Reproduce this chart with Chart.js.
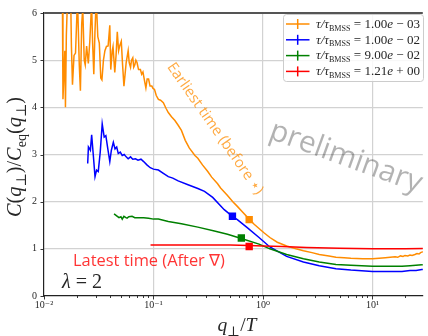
<!DOCTYPE html>
<html><head><meta charset="utf-8">
<script src="https://cdn.jsdelivr.net/npm/chart.js@4/dist/chart.umd.min.js"></script>
<style>html,body{margin:0;padding:0;background:#fff;overflow:hidden}#wrap{width:428px;height:336px;position:relative}</style>
</head><body><div id="wrap"><canvas id="c" width="428" height="336"></canvas></div>
<script>
// ---- data ----
const seriesLabels = ['1.00e-03', '1.00e-02', '9.00e-02', '1.21e+00'];
const seriesColors = ['#ff8c00', '#0000ff', '#008000', '#ff0000'];

const qOrange = [0.0147,0.0149,0.0155,0.0157,0.0160,0.0165,0.0169,0.0174,0.0178,0.0182,
  0.0188,0.0194,0.0200,0.0204,0.0210,0.0215,0.0221,0.0226,0.0233,0.0238,
  0.0245,0.0254,0.0262,0.0272,0.0278,0.0285,0.0292,0.0300,0.0310,0.0320,
  0.0330,0.0338,0.0349,0.0360,0.0372,0.0385,0.0399,0.0407,0.0420,0.0427,
  0.0443,0.0455,0.0467,0.0480,0.0491,0.0508,0.0522,0.0537,0.0550,0.0563,
  0.0587,0.0600,0.0617,0.0630,0.0647,0.0660,0.0675,0.0690,0.0707,0.0730,
  0.0759,0.0780,0.0801,0.0830,0.0852,0.0875,0.0902,0.0930,0.0966,0.0990,
  0.1021,0.106,0.1109,0.116,0.123,0.130,0.1365,0.146,0.1569,0.168,
  0.1799,0.195,0.212,0.2389,0.254,0.280,0.313,0.340,0.385,0.410,
  0.474,0.530,0.583,0.650,0.748,0.830,0.920,1.02,1.156,1.35,
  1.644,2.0,2.34,2.8,3.263,4.0,4.64,5.5,6.34,8.13,
  10,11.5,13.1,14.5,16.1,17.0,18.0,19.0,19.8,21,
  22,23,24.4,25.5,26.6,27.5,28.2,29.5];
const cOrange = [6.6,4.17,5.2,4.0,5.53,6.5,6.2,6.8,5.3,4.48,
  5.1,5.15,6.0,5.98,4.9,4.35,5.77,6.1,5.0,4.9,
  5.3,4.93,5.4,6.2,5.36,4.7,5.6,6.3,5.5,5.36,
  4.62,4.58,5.0,5.2,5.29,5.3,5.74,4.8,5.2,5.29,
  4.74,5.1,5.6,5.2,5.3,5.4,4.9,4.45,4.7,4.95,
  5.2,4.95,4.85,5.0,5.05,4.85,4.9,5.0,4.95,4.8,
  4.8,4.7,4.75,4.55,4.41,4.6,4.6,4.45,4.45,4.4,
  4.38,4.25,4.17,4.15,4.1,3.98,3.89,3.8,3.72,3.62,
  3.51,3.3,3.14,2.98,2.92,2.78,2.64,2.52,2.38,2.29,
  2.13,2.0,1.90,1.78,1.63,1.52,1.43,1.34,1.24,1.14,
  1.06,1.0,0.96,0.92,0.88,0.85,0.82,0.81,0.80,0.79,
  0.79,0.80,0.81,0.82,0.83,0.82,0.85,0.84,0.86,0.85,
  0.87,0.86,0.88,0.90,0.89,0.92,0.93,0.94];

const qBlue = [0.02506,0.02545,0.02652,0.02724,0.02822,0.02923,0.03021,0.03130,0.03262,0.03401,
  0.03545,0.03672,0.03827,0.03990,0.04123,0.04298,0.04453,0.04613,0.04768,0.04970,
  0.05181,0.05400,0.05630,0.05869,0.06168,0.06469,0.06843,0.07222,0.07684,0.08128,
  0.08706,0.09338,0.1,0.1109,0.1230,0.1365,0.150,0.168,0.2067,0.254,
  0.2923,0.3472,0.4426,0.5257,0.583,0.7178,0.920,1.156,1.644,2.34,
  3.263,4.64,6.34,10,13.1,18.6,22,25,28.2,30];
const cBlue = [2.81,3.16,3.09,3.42,2.98,2.53,2.67,2.64,3.05,3.65,
  3.37,3.40,3.12,2.85,3.09,3.26,3.12,3.16,3.02,3.05,
  2.98,3.0,2.95,2.91,2.95,2.90,2.91,2.88,2.90,2.85,
  2.78,2.72,2.69,2.67,2.60,2.53,2.50,2.44,2.36,2.28,
  2.22,2.09,1.83,1.69,1.62,1.45,1.24,1.04,0.84,0.72,
  0.64,0.58,0.55,0.52,0.52,0.52,0.54,0.54,0.56,0.56];

const qGreen = [0.04362,0.04547,0.04838,0.05043,0.05181,0.05366,0.05594,0.05735,0.05953,0.06374,
  0.06745,0.07327,0.08128,0.09016,0.1,0.1109,0.1365,0.1799,0.254,0.3597,
  0.474,0.634,0.920,1.156,1.644,2.34,3.263,4.64,6.34,10,
  13.1,18.6,22,28.2,30];
const cGreen = [1.74,1.71,1.66,1.68,1.63,1.69,1.66,1.65,1.68,1.69,
  1.66,1.66,1.66,1.65,1.63,1.63,1.58,1.53,1.46,1.38,
  1.31,1.22,1.10,1.00,0.88,0.79,0.72,0.67,0.65,0.63,
  0.63,0.63,0.64,0.66,0.67];

const qRed = [0.094,0.2,0.5,0.75,1.0,1.5,2.5,5,10,20,30];
const cRed = [1.08,1.08,1.08,1.07,1.06,1.05,1.03,1.01,1.0,1.0,1.01];

const markerQ = [0.748, 0.526, 0.634, 0.748];
const markerC = [1.62, 1.69, 1.23, 1.05];

const xMajorTicks = [0.01, 0.1, 1, 10];
const xMajorLabels = ['10⁻²', '10⁻¹', '10⁰', '10¹'];
const xMinorTicks = [0.02,0.03,0.04,0.05,0.06,0.07,0.08,0.09,0.2,0.3,0.4,0.5,0.6,0.7,0.8,0.9,2,3,4,5,6,7,8,9,20];
const yTickValues = [0, 1, 2, 3, 4, 5, 6];

// ---- helpers ----
const pts = (q, c) => q.map((v, i) => ({x: v, y: c[i]}));
const SERIF = '"Liberation Serif", "DejaVu Serif", serif';
function fontStr(s, size) {
  return (s.it ? 'italic ' : '') + (size * (s.f || 1)).toFixed(2) + 'px ' + (s.fam || SERIF);
}
function richWidth(ctx, segs, size) {
  let w = 0;
  for (const s of segs) { ctx.font = fontStr(s, size); w += ctx.measureText(s.t).width; }
  return w;
}
function drawRich(ctx, segs, size, x, y, align) {
  const w = richWidth(ctx, segs, size);
  let cx = align === 'center' ? x - w / 2 : (align === 'right' ? x - w : x);
  ctx.textAlign = 'left';
  ctx.textBaseline = 'alphabetic';
  for (const s of segs) {
    ctx.font = fontStr(s, size);
    ctx.fillText(s.t, cx, y + (s.dy || 0) * size);
    cx += ctx.measureText(s.t).width;
  }
}
function fitSize(ctx, segs, target) { return 100 * target / richWidth(ctx, segs, 100); }

function legendSegs(lbl) {
  const m = lbl.split('e');
  const sign = m[1][0] === '-' ? '−' : '+';
  return [
    {t: 'τ/τ', it: true},
    {t: 'BMSS', f: 0.62, dy: 0.22},
    {t: ' = ' + m[0]},
    {t: 'e', it: true},
    {t: ' ' + sign + ' ' + m[1].slice(1)}
  ];
}

const decor = {
  id: 'decor',
  afterDraw(chart) {
    const ctx = chart.ctx, ca = chart.chartArea, xs = chart.scales.x, ys = chart.scales.y;
    ctx.save();
    // tick marks
    ctx.strokeStyle = '#222';
    ctx.lineWidth = 0.9;
    xs.ticks.forEach(t => {
      const p = Math.round(xs.getPixelForValue(t.value)) + 0.5;
      const L = t.major ? 3.5 : 2;
      ctx.beginPath(); ctx.moveTo(p, ca.bottom); ctx.lineTo(p, ca.bottom + L); ctx.stroke();
    });
    ys.ticks.forEach(t => {
      const p = Math.round(ys.getPixelForValue(t.value)) + 0.5;
      ctx.beginPath(); ctx.moveTo(ca.left, p); ctx.lineTo(ca.left - 3.5, p); ctx.stroke();
    });

    // axis titles
    ctx.fillStyle = '#262626';
    const ySegs = [
      {t: 'C', it: true}, {t: '('}, {t: 'q', it: true}, {t: '⊥', f: 0.7, dy: 0.25}, {t: ')/'},
      {t: 'C', it: true}, {t: 'eq', f: 0.7, dy: 0.25}, {t: '('}, {t: 'q', it: true},
      {t: '⊥', f: 0.7, dy: 0.25}, {t: ')'}
    ];
    ctx.save();
    ctx.translate(21, 157);
    ctx.rotate(-Math.PI / 2);
    drawRich(ctx, ySegs, fitSize(ctx, ySegs, 120), 0, 0, 'center');
    ctx.restore();

    const xSegs = [{t: 'q', it: true}, {t: '⊥', f: 0.7, dy: 0.25}, {t: '/'}, {t: 'T', it: true}];
    drawRich(ctx, xSegs, fitSize(ctx, xSegs, 39), 237, 331, 'center');

    // lambda
    const lSegs = [{t: 'λ', it: true}, {t: ' = 2'}];
    drawRich(ctx, lSegs, fitSize(ctx, lSegs, 40), 62, 288, 'left');

    // latest time
    ctx.fillStyle = 'rgba(255,0,0,0.8)';
    const latSegs = [{t: 'Latest time (After ∇)', fam: '"Open Sans", "DejaVu Sans", sans-serif'}];
    drawRich(ctx, latSegs, fitSize(ctx, latSegs, 152), 73, 266, 'left');

    // earliest time (rotated)
    ctx.fillStyle = 'rgba(255,140,0,0.75)';
    const earSegs = [{t: 'Earliest time (before ⋆)', fam: '"Open Sans", "DejaVu Sans", sans-serif'}];
    ctx.save();
    ctx.translate(216, 128);
    ctx.rotate(55 * Math.PI / 180);
    const es = fitSize(ctx, earSegs, 157);
    drawRich(ctx, earSegs, es, 0, es * 0.36, 'center');
    ctx.restore();

    // preliminary watermark
    ctx.fillStyle = 'rgba(0,0,0,0.3)';
    const preSegs = [{t: 'preliminary', fam: '"Open Sans", "DejaVu Sans", sans-serif'}];
    ctx.save();
    ctx.translate(346, 157);
    ctx.rotate(20 * Math.PI / 180);
    const ps = fitSize(ctx, preSegs, 160);
    drawRich(ctx, preSegs, ps, 0, ps * 0.3, 'center');
    ctx.restore();

    // legend
    const bx = 283.5, by = 14.5, bw = 140, bh = 67;
    ctx.beginPath();
    ctx.roundRect(bx, by, bw, bh, 3);
    ctx.fillStyle = 'rgba(255,255,255,0.85)';
    ctx.fill();
    ctx.strokeStyle = '#cccccc';
    ctx.lineWidth = 1;
    ctx.stroke();
    const lineDs = chart.data.datasets.filter(d => d.isSeries).sort((a, b) => a.legendIndex - b.legendIndex);
    const size0 = fitSize(ctx, legendSegs(seriesLabels[0]), 104);
    lineDs.forEach((d, i) => {
      const yy = 24 + i * 15.8;
      ctx.strokeStyle = d.borderColor;
      ctx.lineWidth = 1.5;
      ctx.beginPath(); ctx.moveTo(286, yy); ctx.lineTo(309.5, yy); ctx.stroke();
      ctx.beginPath(); ctx.moveTo(297.7, yy - 5); ctx.lineTo(297.7, yy + 5); ctx.stroke();
      ctx.fillStyle = '#262626';
      drawRich(ctx, legendSegs(d.label), size0, 316, yy + 3.8, 'left');
    });
    ctx.restore();
  }
};

const seriesQ = [qOrange, qBlue, qGreen, qRed];
const seriesC = [cOrange, cBlue, cGreen, cRed];
const datasets = seriesLabels.map((lbl, i) => ({
  label: lbl,
  isSeries: true,
  legendIndex: i,
  data: pts(seriesQ[i], seriesC[i]),
  borderColor: seriesColors[i],
  backgroundColor: seriesColors[i],
  borderWidth: 1.5,
  pointRadius: 0,
  showLine: true,
  tension: 0,
  order: 4 - i
}));
datasets.push({
  label: 'markers',
  data: pts(markerQ, markerC),
  pointStyle: 'rect',
  pointRadius: 5.2,
  pointBackgroundColor: seriesColors,
  pointBorderWidth: 0,
  showLine: false,
  order: 0
});

const allXTicks = xMajorTicks.concat(xMinorTicks).sort((a, b) => a - b);
const isMajor = v => xMajorTicks.some(m => Math.abs(m - v) / m < 1e-9);

new Chart(document.getElementById('c'), {
  type: 'scatter',
  data: {datasets},
  options: {
    responsive: false,
    animation: false,
    devicePixelRatio: 1,
    layout: {padding: {top: 9, left: 0, right: 0, bottom: 0}},
    plugins: {legend: {display: false}, tooltip: {enabled: false}},
    scales: {
      x: {
        type: 'logarithmic',
        min: 0.01,
        max: 28.8,
        afterBuildTicks: s => { s.ticks = allXTicks.map(v => ({value: v, major: isMajor(v)})); },
        afterFit: s => { s.height = 40; },
        ticks: {
          autoSkip: false, maxRotation: 0, minRotation: 0, padding: 3,
          color: '#262626',
          font: {family: SERIF, size: 10},
          callback: v => { const k = xMajorTicks.findIndex(m => Math.abs(m - v) / m < 1e-9); return k >= 0 ? xMajorLabels[k] : ''; }
        },
        grid: {
          drawTicks: false,
          color: c => (c.tick && isMajor(c.tick.value) && c.tick.value > 0.011) ? '#d2d2d2' : 'rgba(0,0,0,0)',
          lineWidth: 1.2
        },
        border: {color: '#222', width: 1.2}
      },
      y: {
        type: 'linear',
        min: 0,
        max: 6,
        afterBuildTicks: s => { s.ticks = yTickValues.map(v => ({value: v})); },
        afterFit: s => { s.width = 44; },
        ticks: {
          padding: 7,
          color: '#262626',
          font: {family: SERIF, size: 10},
          callback: v => String(v)
        },
        grid: {
          drawTicks: false,
          color: c => c.tick && c.tick.value === 6 ? '#555555' : (c.tick && c.tick.value === 0 ? 'rgba(0,0,0,0)' : '#d2d2d2'),
          lineWidth: c => c.tick && c.tick.value === 6 ? 2 : 1.2
        },
        border: {color: '#222', width: 1.2}
      }
    }
  },
  plugins: [decor]
});
</script>
</body></html>
